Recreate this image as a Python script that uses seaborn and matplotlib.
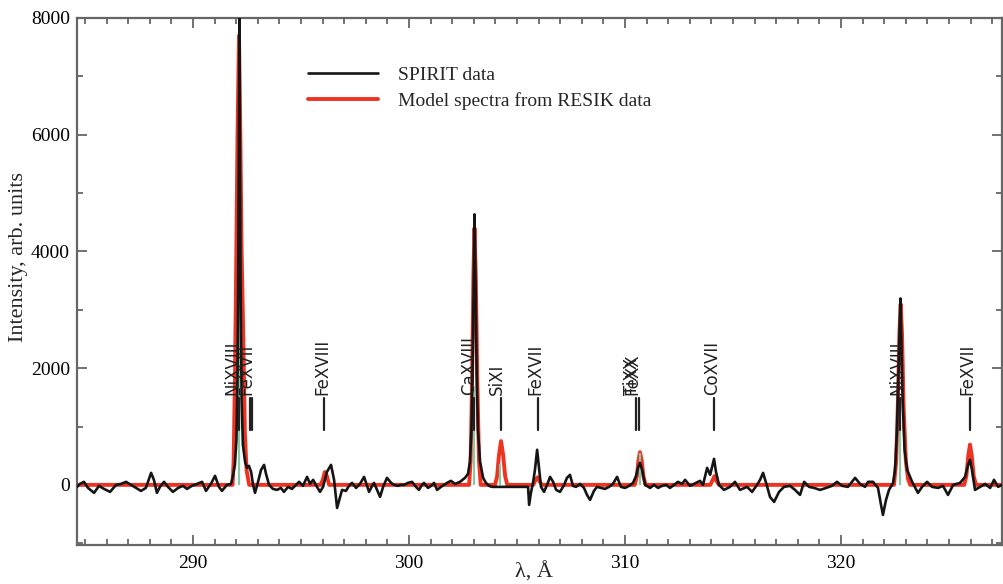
import matplotlib
matplotlib.use("Agg")
import matplotlib.pyplot as plt
import seaborn as sns
import pandas as pd
from matplotlib.ticker import MultipleLocator

# SPIRIT spectrum (wavelength in A, intensity in arb. units)
spirit_wl = [
    284.63, 284.77, 284.95, 285.14, 285.42, 285.65, 285.88, 286.16, 286.44, 286.67,
    286.90, 287.13, 287.36, 287.59, 287.82, 288.06, 288.19, 288.33, 288.47, 288.66,
    288.84, 289.07, 289.31, 289.54, 289.72, 289.95, 290.19, 290.42, 290.60, 290.83,
    291.02, 291.20, 291.34, 291.57, 291.76, 291.85, 291.94, 292.01, 292.06, 292.10,
    292.13, 292.15, 292.17, 292.20, 292.25, 292.31, 292.41, 292.50, 292.59, 292.69,
    292.78, 292.87, 293.01, 293.15, 293.29, 293.38, 293.52, 293.70, 293.89, 294.07,
    294.21, 294.40, 294.58, 294.77, 294.91, 295.09, 295.28, 295.42, 295.56, 295.74,
    295.88, 296.02, 296.20, 296.39, 296.53, 296.67, 296.81, 296.90, 297.08, 297.22,
    297.36, 297.55, 297.73, 297.92, 298.06, 298.15, 298.29, 298.38, 298.52, 298.66,
    298.80, 298.98, 299.17, 299.31, 299.49, 299.63, 299.77, 299.95, 300.14, 300.32,
    300.46, 300.60, 300.69, 300.88, 301.02, 301.16, 301.30, 301.48, 301.76, 301.94,
    302.13, 302.36, 302.59, 302.73, 302.82, 302.89, 302.94, 302.99, 303.03, 303.08,
    303.13, 303.19, 303.29, 303.43, 303.56, 303.70, 303.84, 305.51, 305.56, 305.65,
    305.74, 305.83, 305.93, 306.02, 306.11, 306.25, 306.39, 306.53, 306.67, 306.81,
    306.99, 307.18, 307.31, 307.45, 307.59, 307.73, 307.92, 308.10, 308.24, 308.38,
    308.56, 308.70, 308.89, 309.07, 309.26, 309.44, 309.63, 309.81, 310.00, 310.19,
    310.37, 310.51, 310.60, 310.69, 310.79, 310.93, 311.16, 311.34, 311.53, 311.71,
    311.90, 312.08, 312.27, 312.45, 312.64, 312.78, 313.01, 313.19, 313.47, 313.61,
    313.80, 313.94, 314.12, 314.21, 314.35, 314.58, 314.86, 315.09, 315.32, 315.65,
    315.88, 316.11, 316.25, 316.39, 316.57, 316.71, 316.90, 317.13, 317.36, 317.64,
    317.87, 318.10, 318.29, 318.52, 318.75, 319.03, 319.31, 319.58, 319.81, 320.05,
    320.32, 320.65, 320.88, 321.11, 321.25, 321.48, 321.71, 321.85, 321.94, 322.08,
    322.22, 322.41, 322.50, 322.59, 322.66, 322.71, 322.75, 322.79, 322.85, 322.94,
    323.06, 323.29, 323.56, 323.75, 323.98, 324.21, 324.49, 324.72, 324.95, 325.19,
    325.51, 325.74, 325.88, 325.97, 326.06, 326.20, 326.44, 326.67, 326.90, 327.08,
    327.27, 327.45,
]
spirit_int = [
    -34, 17, 52, -52, -137, -17, -69, -120, 0, 17,
    52, 0, -52, -103, -52, 206, 86, -137, -34, 52,
    -34, -120, -52, -17, -69, -17, 17, 52, -103, 17,
    155, -34, -103, 0, 17, 155, 343, 773, 1803, 4035,
    6610, 8000, 6267, 3520, 1459, 687, 395, 292, 326, 223,
    0, -137, 52, 258, 343, 189, 0, -69, -86, -52,
    -120, -34, -69, 0, 52, -17, 137, 17, 86, -34,
    -120, -34, 223, 343, 86, -395, -206, -86, -103, -17,
    34, -52, 17, 137, -17, -120, -17, 34, -86, -206,
    -34, 120, 34, 0, -17, 0, 0, 34, 52, -34,
    -86, 0, 34, -52, -17, 34, -86, -34, 34, 69,
    17, 52, 120, 189, 395, 944, 1975, 3348, 4636, 3520,
    1975, 944, 395, 120, 34, -17, -34, -34, -343, -120,
    34, 258, 601, 292, -34, -120, 0, 137, 52, -86,
    -120, 0, 120, 172, -17, -34, 17, -52, -172, -258,
    -103, -34, -52, -69, -34, 17, 137, -34, -52, -17,
    34, 155, 292, 378, 258, 0, -52, 0, -52, -17,
    0, -52, 0, 52, 17, 86, -17, 17, 69, 0,
    292, 172, 446, 223, 0, -86, -34, 52, -86, -34,
    -120, 0, 86, 206, -17, -206, -292, -120, -34, -17,
    -86, -172, 52, -34, -52, -86, -52, -17, 52, -17,
    -34, 120, 17, -34, 52, 52, -52, -343, -515, -258,
    -86, 34, 258, 944, 1975, 2661, 3194, 2490, 1459, 601,
    258, 52, -137, -34, 52, -34, -52, -17, -172, 0,
    34, 137, 343, 429, 258, -86, -34, 17, -52, 86,
    -34, 0,
]

# model spectrum from RESIK data
model_wl = [
    284.63, 291.83, 291.88, 291.94, 291.99, 292.06, 292.13, 292.19, 292.25, 292.33,
    292.40, 292.48, 292.60, 295.90, 296.00, 296.10, 296.20, 296.30, 302.78, 302.85,
    302.92, 302.98, 303.03, 303.09, 303.16, 303.24, 303.32, 303.98, 304.08, 304.16,
    304.26, 304.36, 304.45, 304.55, 305.75, 305.88, 305.95, 306.05, 306.15, 310.45,
    310.55, 310.62, 310.69, 310.77, 310.85, 310.95, 313.95, 314.05, 314.14, 314.24,
    314.35, 322.45, 322.55, 322.63, 322.70, 322.76, 322.82, 322.90, 323.00, 323.10,
    323.20, 325.70, 325.80, 325.89, 325.97, 326.05, 326.14, 326.25, 327.45,
]
model_int = [
    0, 0, 400, 1800, 3400, 6000, 7700, 6000, 4000, 2500,
    900, 250, 0, 0, 80, 220, 150, 0, 0, 400,
    1800, 3600, 4400, 3600, 1800, 400, 0, 0, 150, 500,
    750, 500, 150, 0, 0, 100, 130, 60, 0, 0,
    150, 420, 560, 420, 150, 0, 0, 80, 150, 60,
    0, 0, 400, 1400, 2600, 3100, 2600, 1300, 400, 100,
    0, 0, 150, 500, 690, 500, 150, 0, 0,
]

# line identification sticks
stick_wl = [292.13, 303.03, 304.22, 310.69, 322.75]
stick_int = [3400, 1700, 350, 550, 1000]

# line labels: text, text position, marker positions
ion_names = ["NiXVIII", "FeXVII", "FeXVIII", "CaXVIII", "SiXI", "FeXVII",
             "TiXX", "FeXX", "CoXVII", "NiXVIII", "FeXVII"]
ion_text_wl = [291.82, 292.48, 295.97, 302.78, 304.07, 305.83,
               310.30, 310.36, 314.03, 322.59, 325.83]
ion_marks = [[292.13], [292.62, 292.74], [296.06], [303.01], [304.26], [305.96],
             [310.51], [310.63], [314.12], [322.73], [325.97]]

spirit = pd.DataFrame({"wl": spirit_wl, "I": spirit_int})
model = pd.DataFrame({"wl": model_wl, "I": model_int})


def main():
    sns.set_style("ticks")
    plt.rcParams["font.family"] = ["Liberation Serif", "DejaVu Serif"]

    fig = plt.figure(figsize=(10.04, 5.84), dpi=100)
    ax = fig.add_axes([0.0767, 0.0668, 0.9213, 0.9024])

    sns.lineplot(data=model, x="wl", y="I", color="#ee3322", lw=2.8, sort=False,
                 estimator=None, ax=ax, zorder=2, label="Model spectra from RESIK data")
    ax.vlines(stick_wl, 0, stick_int, color="#86c9a2", lw=1.6, zorder=3)
    sns.lineplot(data=spirit, x="wl", y="I", color="#151515", lw=1.9, sort=False,
                 estimator=None, ax=ax, zorder=4, label="SPIRIT data")

    for name, tx, marks in zip(ion_names, ion_text_wl, ion_marks):
        ax.text(tx, 1545, name, rotation=90, ha="center", va="bottom",
                fontsize=12, family="DejaVu Sans", color="#222222", zorder=5)
        for m in marks:
            ax.plot([m, m], [944, 1494], color="#222222", lw=1.6, zorder=5)

    handles, labels = ax.get_legend_handles_labels()
    ax.legend(handles[::-1], labels[::-1], loc="upper left", bbox_to_anchor=(0.25, 0.909),
              frameon=False, fontsize=14, handlelength=3.6, handletextpad=1.0,
              labelspacing=0.45, borderpad=0, borderaxespad=0)

    ax.set_xlim(284.63, 327.45)
    ax.set_ylim(-1030, 8000)
    ax.xaxis.set_major_locator(MultipleLocator(10))
    ax.xaxis.set_minor_locator(MultipleLocator(1))
    ax.yaxis.set_major_locator(MultipleLocator(2000))
    ax.yaxis.set_minor_locator(MultipleLocator(1000))
    ax.tick_params(which="both", direction="in", top=True, right=True,
                   color="#666666", width=1.3, labelsize=14, labelcolor="black")
    ax.tick_params(which="major", length=7)
    ax.tick_params(which="minor", length=4.5)
    ax.tick_params(axis="x", which="major", pad=7)
    ax.tick_params(axis="y", which="major", pad=5)
    for s in ax.spines.values():
        s.set_color("#666666")
        s.set_linewidth(1.6)

    ax.set_xlabel("λ, Å", fontsize=16)
    ax.set_ylabel("Intensity, arb. units", fontsize=16)
    ax.xaxis.set_label_coords(0.494, -0.032)
    ax.yaxis.set_label_coords(-0.053, 0.546)

    fig.savefig("out.png", dpi=100)


if __name__ == "__main__":
    main()
